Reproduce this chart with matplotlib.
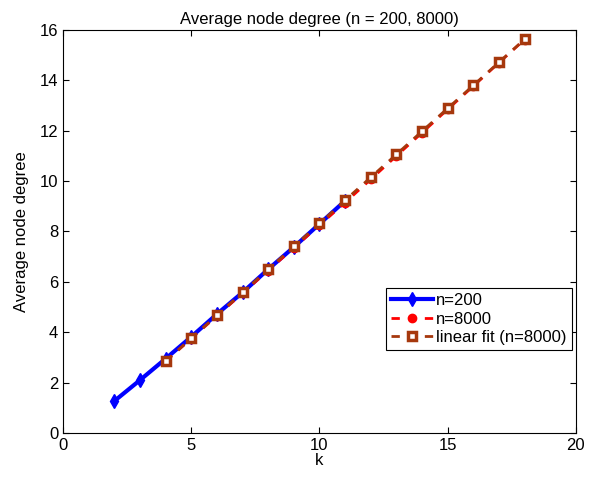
import matplotlib
matplotlib.use("Agg")
import matplotlib.pyplot as plt

plt.rcParams['font.family'] = ['Liberation Sans', 'DejaVu Sans']

k_small = [2, 3, 4, 5, 6, 7, 8, 9, 10, 11]
deg_small = [1.27, 2.1, 2.95, 3.82, 4.72, 5.58, 6.5, 7.38, 8.3, 9.22]

k_large = [4, 5, 6, 7, 8, 9, 10, 11, 12, 13, 14, 15, 16, 17, 18]
deg_large = [2.85, 3.75, 4.65, 5.55, 6.45, 7.35, 8.25, 9.15, 10.07, 11.0,
             11.92, 12.85, 13.77, 14.7, 15.62]
deg_fit = [2.84, 3.76, 4.67, 5.58, 6.5, 7.41, 8.32, 9.24, 10.15, 11.06,
           11.98, 12.89, 13.8, 14.72, 15.63]

fig = plt.figure(figsize=(5.9, 4.8), dpi=100)
ax = fig.add_axes([0.107, 0.098, 0.869, 0.8395])

fit_col = (0.65, 0.22, 0.05)
ax.plot(k_small, deg_small, color='blue', lw=3, marker='d', ms=7,
        label='n=200', zorder=2)
ax.plot(k_large, deg_large, color='red', lw=2, ls='--', dashes=(3, 3),
        marker='o', ms=6, label='n=8000', zorder=3)
ax.plot(k_large, deg_fit, color=fit_col, lw=2, ls='--', dashes=(3, 3),
        marker='s', ms=6, mew=2.5, mfc='white', label='linear fit (n=8000)',
        zorder=4)

ax.set_xlim(0, 20)
ax.set_ylim(0, 16)
ax.set_xticks([0, 5, 10, 15, 20])
ax.set_yticks(range(0, 17, 2))
ax.tick_params(direction='in', top=True, right=True, labelsize=12, length=4)
ax.set_xlabel('k', fontsize=12, labelpad=0)
ax.set_ylabel('Average node degree', fontsize=12, labelpad=8)
ax.set_title('Average node degree (n = 200, 8000)', fontsize=12, pad=4)

leg = ax.legend(loc='lower right', bbox_to_anchor=(0.992, 0.206), fontsize=12,
                fancybox=False, edgecolor='black', framealpha=1,
                borderpad=0.3, labelspacing=0.2, handlelength=2.5,
                handletextpad=0.2, borderaxespad=0)
leg.get_frame().set_linewidth(0.8)

fig.savefig('out.png', dpi=100)
